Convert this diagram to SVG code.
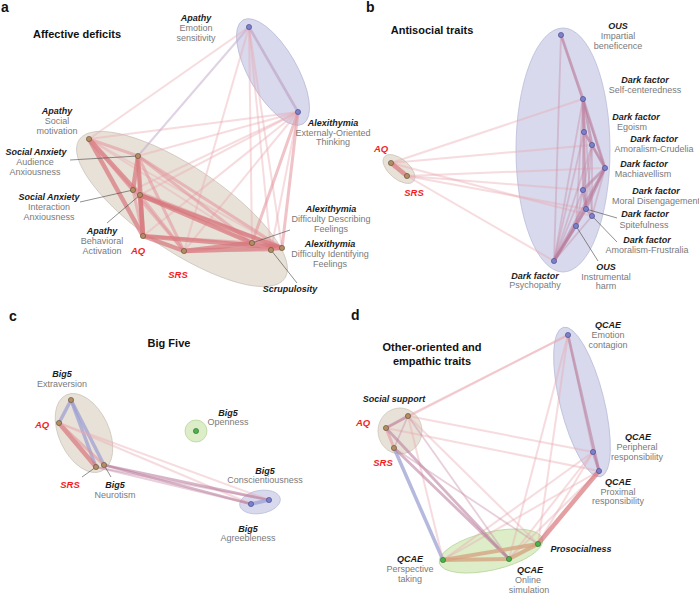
<svg xmlns="http://www.w3.org/2000/svg" width="699" height="594" viewBox="0 0 699 594">
<style>
text{font-family:"Liberation Sans",Arial,sans-serif}
.h{font-weight:bold;font-style:italic;font-size:9px;fill:#1c1c1c;text-anchor:middle}
.s{font-size:9px;fill:#7a7a7a;text-anchor:middle}
.rd{font-weight:bold;font-style:italic;font-size:9.5px;fill:#f21f1f;text-anchor:middle}
.ti{font-weight:bold;font-size:11px;fill:#111;text-anchor:middle}
.lt{font-weight:bold;font-size:14px;fill:#111}
.nb{fill:#b38d62;stroke:#5e4c36;stroke-width:.6}
.nv{fill:#7b80c9;stroke:#3f438b;stroke-width:.6}
.ng{fill:#4bb34a;stroke:#2d6b2d;stroke-width:.6}
.eb{fill:#e8e1d8;stroke:#cfc7bd;stroke-width:.8}
.ev{fill:#d8d9ec;stroke:#babdd9;stroke-width:.8}
.eg{fill:#ddedc8;stroke:#b7d59f;stroke-width:.8}
.ld{stroke:#444;stroke-width:.6;fill:none}
.e1{stroke:#eba8b0;stroke-width:2;opacity:.4}
.e2{stroke:#e3939a;stroke-width:3;opacity:.55}
.e3{stroke:#d8777c;stroke-width:4.5;opacity:.7}
.v1{stroke:#c3a6cc;stroke-width:2;opacity:.5}
.v2{stroke:#b99ac0;stroke-width:2.6;opacity:.55}
.m1{stroke:#c58aa6;stroke-width:1.8;opacity:.4}
.m2{stroke:#b8799a;stroke-width:2.8;opacity:.55}
.b3{stroke:#9ea2d4;stroke-width:3.5;opacity:.75}
.t3{stroke:#d6a27f;stroke-width:4;opacity:.75}
</style>

<!-- panel titles -->
<text class="lt" x="1" y="12">a</text>
<text class="ti" x="77" y="38">Affective deficits</text>
<text class="lt" x="366" y="12">b</text>
<text class="ti" x="432" y="34">Antisocial traits</text>
<text class="lt" x="9" y="321">c</text>
<text class="ti" x="169" y="347">Big Five</text>
<text class="lt" x="351" y="320">d</text>
<text class="ti" x="432" y="351">Other-oriented and</text>
<text class="ti" x="432" y="365">empathic traits</text>

<!-- cluster backgrounds -->
<g id="clusters">
<ellipse class="ev" cx="273" cy="72" rx="60" ry="24" transform="rotate(60 273 72)"/>
<ellipse class="eb" cx="182" cy="209" rx="124" ry="42" transform="rotate(34 182 209)"/>
<ellipse class="ev" cx="563" cy="150" rx="47" ry="122"/>
<ellipse class="eb" cx="399" cy="169" rx="19" ry="10" transform="rotate(40 399 169)"/>
<ellipse class="eb" cx="84" cy="433" rx="42" ry="25" transform="rotate(65 84 433)"/>
<circle cx="196" cy="431" r="11" class="eg"/>
<ellipse class="ev" cx="260" cy="502" rx="20.5" ry="11.5" transform="rotate(-10 260 502)"/>
<ellipse class="ev" cx="582" cy="402" rx="77" ry="22" transform="rotate(76 582 402)"/>
<ellipse class="eg" cx="491" cy="551" rx="53" ry="19" transform="rotate(-13 491 551)"/>
<ellipse class="eb" cx="400" cy="431" rx="22" ry="23"/>
</g>

<g id="connectors">
<!-- panel a -->
<line class="e1" x1="249" y1="27" x2="89" y2="139"/>
<line class="v1" x1="249" y1="27" x2="138" y2="156"/>
<line class="e1" x1="249" y1="27" x2="184" y2="251"/>
<line class="e1" x1="249" y1="27" x2="252" y2="243"/>
<line class="e1" x1="249" y1="27" x2="271" y2="250"/>
<line class="e1" x1="249" y1="27" x2="282" y2="248"/>
<line class="v2" x1="249" y1="27" x2="298" y2="112"/>
<line class="e1" x1="298" y1="112" x2="89" y2="139"/>
<line class="e1" x1="298" y1="112" x2="138" y2="156"/>
<line class="e1" x1="298" y1="112" x2="133" y2="190"/>
<line class="e1" x1="298" y1="112" x2="140" y2="195"/>
<line class="e1" x1="298" y1="112" x2="143" y2="236"/>
<line class="e1" x1="298" y1="112" x2="184" y2="251"/>
<line class="e2" x1="298" y1="112" x2="252" y2="243"/>
<line class="e1" x1="298" y1="112" x2="271" y2="250"/>
<line class="e2" x1="298" y1="112" x2="282" y2="248"/>
<line class="e1" x1="89" y1="139" x2="252" y2="243"/>
<line class="e1" x1="89" y1="139" x2="282" y2="248"/>
<line class="e2" x1="89" y1="139" x2="138" y2="156"/>
<line class="e2" x1="89" y1="139" x2="133" y2="190"/>
<line class="e3" x1="89" y1="139" x2="140" y2="195"/>
<line class="e3" x1="89" y1="139" x2="143" y2="236"/>
<line class="e2" x1="89" y1="139" x2="184" y2="251"/>
<line class="e3" x1="138" y1="156" x2="133" y2="190"/>
<line class="e2" x1="138" y1="156" x2="140" y2="195"/>
<line class="e3" x1="138" y1="156" x2="143" y2="236"/>
<line class="e2" x1="138" y1="156" x2="184" y2="251"/>
<line class="e2" x1="138" y1="156" x2="252" y2="243"/>
<line class="e2" x1="138" y1="156" x2="282" y2="248"/>
<line class="e2" x1="133" y1="190" x2="143" y2="236"/>
<line class="e1" x1="133" y1="190" x2="252" y2="243"/>
<line class="e2" x1="133" y1="190" x2="282" y2="248"/>
<line class="e3" x1="140" y1="195" x2="143" y2="236"/>
<line class="e2" x1="140" y1="195" x2="184" y2="251"/>
<line class="e3" x1="140" y1="195" x2="252" y2="243"/>
<line class="e3" x1="140" y1="195" x2="282" y2="248"/>
<line class="e3" x1="143" y1="236" x2="184" y2="251"/>
<line class="e2" x1="143" y1="236" x2="252" y2="243"/>
<line class="e3" x1="143" y1="236" x2="282" y2="248"/>
<line class="e3" x1="184" y1="251" x2="252" y2="243"/>
<line class="e3" x1="184" y1="251" x2="282" y2="248"/>
<line class="e2" x1="184" y1="251" x2="271" y2="250"/>
<line class="e3" x1="252" y1="243" x2="282" y2="248"/>
<line class="e2" x1="252" y1="243" x2="271" y2="250"/>
<line class="e2" x1="271" y1="250" x2="282" y2="248"/>
<!-- panel b -->
<line class="e1" x1="391" y1="163" x2="583" y2="99"/>
<line class="e1" x1="391" y1="163" x2="592" y2="145"/>
<line class="e1" x1="407" y1="176" x2="605" y2="168"/>
<line class="e1" x1="407" y1="176" x2="583" y2="190"/>
<line class="e1" x1="407" y1="176" x2="586" y2="209"/>
<line class="e1" x1="391" y1="163" x2="592" y2="216"/>
<line class="e1" x1="407" y1="176" x2="554" y2="261"/>
<line class="e3" x1="391" y1="163" x2="407" y2="176"/>
<line class="m2" x1="561" y1="35" x2="583" y2="99"/>
<line class="m1" x1="561" y1="35" x2="605" y2="168"/>
<line class="m1" x1="561" y1="35" x2="554" y2="261"/>
<line class="m2" x1="583" y1="99" x2="584" y2="132"/>
<line class="m2" x1="583" y1="99" x2="592" y2="145"/>
<line class="m2" x1="583" y1="99" x2="605" y2="168"/>
<line class="m1" x1="583" y1="99" x2="583" y2="190"/>
<line class="m1" x1="583" y1="99" x2="586" y2="209"/>
<line class="m1" x1="583" y1="99" x2="592" y2="216"/>
<line class="m1" x1="583" y1="99" x2="576" y2="226"/>
<line class="m1" x1="583" y1="99" x2="554" y2="261"/>
<line class="m2" x1="584" y1="132" x2="592" y2="145"/>
<line class="m1" x1="584" y1="132" x2="605" y2="168"/>
<line class="m1" x1="584" y1="132" x2="583" y2="190"/>
<line class="m1" x1="584" y1="132" x2="586" y2="209"/>
<line class="m1" x1="584" y1="132" x2="554" y2="261"/>
<line class="m2" x1="592" y1="145" x2="605" y2="168"/>
<line class="m1" x1="592" y1="145" x2="583" y2="190"/>
<line class="m1" x1="592" y1="145" x2="586" y2="209"/>
<line class="m1" x1="592" y1="145" x2="592" y2="216"/>
<line class="m1" x1="592" y1="145" x2="554" y2="261"/>
<line class="m2" x1="605" y1="168" x2="583" y2="190"/>
<line class="m2" x1="605" y1="168" x2="586" y2="209"/>
<line class="m1" x1="605" y1="168" x2="592" y2="216"/>
<line class="m1" x1="605" y1="168" x2="576" y2="226"/>
<line class="m2" x1="605" y1="168" x2="554" y2="261"/>
<line class="m2" x1="583" y1="190" x2="586" y2="209"/>
<line class="m1" x1="583" y1="190" x2="576" y2="226"/>
<line class="m1" x1="583" y1="190" x2="554" y2="261"/>
<line class="m2" x1="586" y1="209" x2="592" y2="216"/>
<line class="m1" x1="586" y1="209" x2="576" y2="226"/>
<line class="m2" x1="586" y1="209" x2="554" y2="261"/>
<line class="m1" x1="592" y1="216" x2="554" y2="261"/>
<line class="m2" x1="576" y1="226" x2="554" y2="261"/>
<!-- panel c -->
<line class="b3" x1="71" y1="400" x2="59" y2="423"/>
<line class="b3" x1="71" y1="400" x2="96" y2="467"/>
<line class="b3" x1="71" y1="400" x2="104" y2="465"/>
<line class="e3" x1="59" y1="423" x2="96" y2="467"/>
<line class="e2" x1="59" y1="423" x2="104" y2="465"/>
<line class="e1" x1="59" y1="423" x2="269" y2="500"/>
<line class="e1" x1="59" y1="423" x2="251" y2="504"/>
<line class="m2" x1="104" y1="465" x2="269" y2="500"/>
<line class="m2" x1="104" y1="465" x2="251" y2="504"/>
<line class="m1" x1="96" y1="467" x2="269" y2="500"/>
<line class="m1" x1="96" y1="467" x2="251" y2="504"/>
<line class="b3" x1="251" y1="504" x2="269" y2="500"/>
<!-- panel d -->
<line class="e1" x1="568" y1="335" x2="408" y2="416"/>
<line class="e1" x1="568" y1="335" x2="386" y2="428"/>
<line class="m2" x1="568" y1="335" x2="599" y2="471"/>
<line class="m1" x1="568" y1="335" x2="593" y2="452"/>
<line class="e1" x1="568" y1="335" x2="538" y2="544"/>
<line class="e1" x1="568" y1="335" x2="509" y2="559"/>
<line class="e1" x1="408" y1="416" x2="593" y2="452"/>
<line class="e1" x1="386" y1="428" x2="599" y2="471"/>
<line class="e1" x1="593" y1="452" x2="443" y2="560"/>
<line class="e1" x1="593" y1="452" x2="509" y2="559"/>
<line class="e1" x1="593" y1="452" x2="538" y2="544"/>
<line class="e1" x1="599" y1="471" x2="443" y2="560"/>
<line class="e1" x1="599" y1="471" x2="509" y2="559"/>
<line class="e3" x1="599" y1="471" x2="538" y2="544"/>
<line class="m2" x1="593" y1="452" x2="599" y2="471"/>
<line class="m2" x1="408" y1="416" x2="386" y2="428"/>
<line class="e2" x1="386" y1="428" x2="394" y2="448"/>
<line class="m1" x1="408" y1="416" x2="394" y2="448"/>
<line class="b3" x1="394" y1="448" x2="443" y2="560"/>
<line class="e1" x1="408" y1="416" x2="443" y2="560"/>
<line class="e1" x1="408" y1="416" x2="538" y2="544"/>
<line class="m1" x1="408" y1="416" x2="509" y2="559"/>
<line class="m2" x1="386" y1="428" x2="509" y2="559"/>
<line class="m2" x1="394" y1="448" x2="509" y2="559"/>
<line class="m1" x1="394" y1="448" x2="538" y2="544"/>
<line class="t3" x1="443" y1="560" x2="509" y2="559"/>
<line class="t3" x1="443" y1="560" x2="538" y2="544"/>
<line class="t3" x1="509" y1="559" x2="538" y2="544"/>
</g>

<!-- panel a nodes -->
<g id="a-emotion-sensitivity"><circle class="nv" cx="249" cy="27" r="2.6"/><text class="h" x="196" y="21">Apathy</text><text class="s" x="196" y="31">Emotion</text><text class="s" x="196" y="41">sensitivity</text></g>
<g id="a-externally-oriented"><circle class="nv" cx="298" cy="112" r="2.6"/><text class="h" x="333" y="126">Alexithymia</text><text class="s" x="333" y="136">Externaly-Oriented</text><text class="s" x="333" y="145">Thinking</text></g>
<g id="a-social-motivation"><circle class="nb" cx="89" cy="139" r="2.6"/><text class="h" x="57" y="114">Apathy</text><text class="s" x="57" y="124">Social</text><text class="s" x="57" y="134">motivation</text></g>
<g id="a-audience-anxiousness"><line class="ld" x1="70" y1="160" x2="138" y2="156"/><circle class="nb" cx="138" cy="156" r="2.6"/><text class="h" x="36" y="155">Social Anxiety</text><text class="s" x="35" y="165">Audience</text><text class="s" x="35" y="175">Anxiousness</text></g>
<g id="a-interaction-anxiousness"><line class="ld" x1="80" y1="202" x2="133" y2="190"/><circle class="nb" cx="133" cy="190" r="2.6"/><text class="h" x="49" y="200">Social Anxiety</text><text class="s" x="49" y="210">Interaction</text><text class="s" x="49" y="220">Anxiousness</text></g>
<g id="a-behavioral-activation"><line class="ld" x1="107" y1="223" x2="140" y2="195"/><circle class="nb" cx="140" cy="195" r="2.6"/><text class="h" x="102" y="234">Apathy</text><text class="s" x="102" y="244">Behavioral</text><text class="s" x="102" y="254">Activation</text></g>
<g id="a-aq"><circle class="nb" cx="143" cy="236" r="2.6"/><text class="rd" x="138" y="254">AQ</text></g>
<g id="a-srs"><circle class="nb" cx="184" cy="251" r="2.6"/><text class="rd" x="178" y="278">SRS</text></g>
<g id="a-difficulty-describing"><line class="ld" x1="290" y1="230" x2="252" y2="243"/><circle class="nb" cx="252" cy="243" r="2.6"/><text class="h" x="331" y="212">Alexithymia</text><text class="s" x="331" y="222">Difficulty Describing</text><text class="s" x="331" y="232">Feelings</text></g>
<g id="a-scrupulosity"><line class="ld" x1="271" y1="250" x2="297" y2="283"/><circle class="nb" cx="271" cy="250" r="2.6"/><text class="h" x="290" y="292">Scrupulosity</text></g>
<g id="a-difficulty-identifying"><circle class="nb" cx="282" cy="248" r="2.6"/><text class="h" x="330" y="247">Alexithymia</text><text class="s" x="330" y="257">Difficulty Identifying</text><text class="s" x="330" y="267">Feelings</text></g>

<!-- panel b nodes -->
<g id="b-aq"><circle class="nb" cx="391" cy="163" r="2.6"/><text class="rd" x="381" y="152">AQ</text></g>
<g id="b-srs"><circle class="nb" cx="407" cy="176" r="2.6"/><text class="rd" x="414" y="196">SRS</text></g>
<g id="b-impartial-beneficence"><circle class="nv" cx="561" cy="35" r="2.6"/><text class="h" x="618" y="29">OUS</text><text class="s" x="618" y="39">Impartial</text><text class="s" x="618" y="49">beneficence</text></g>
<g id="b-self-centeredness"><circle class="nv" cx="583" cy="99" r="2.6"/><text class="h" x="645" y="83">Dark factor</text><text class="s" x="645" y="93">Self-centeredness</text></g>
<g id="b-egoism"><circle class="nv" cx="584" cy="132" r="2.6"/><text class="h" x="636" y="120">Dark factor</text><text class="s" x="632" y="130">Egoism</text></g>
<g id="b-amoralism-crudelia"><circle class="nv" cx="592" cy="145" r="2.6"/><text class="h" x="654" y="142">Dark factor</text><text class="s" x="654" y="152">Amoralism-Crudelia</text></g>
<g id="b-machiavellism"><circle class="nv" cx="605" cy="168" r="2.6"/><text class="h" x="644" y="167">Dark factor</text><text class="s" x="643" y="177">Machiavellism</text></g>
<g id="b-moral-disengagement"><circle class="nv" cx="583" cy="190" r="2.6"/><text class="h" x="656" y="194">Dark factor</text><text class="s" x="656" y="204">Moral Disengagement</text></g>
<g id="b-spitefulness"><line class="ld" x1="586" y1="209" x2="617" y2="218"/><circle class="nv" cx="586" cy="209" r="2.6"/><text class="h" x="645" y="217">Dark factor</text><text class="s" x="644" y="228">Spitefulness</text></g>
<g id="b-amoralism-frustralia"><line class="ld" x1="592" y1="216" x2="617" y2="242"/><circle class="nv" cx="592" cy="216" r="2.6"/><text class="h" x="647" y="243">Dark factor</text><text class="s" x="647" y="253">Amoralism-Frustralia</text></g>
<g id="b-instrumental-harm"><line class="ld" x1="576" y1="226" x2="598" y2="261"/><circle class="nv" cx="576" cy="226" r="2.6"/><text class="h" x="606" y="270">OUS</text><text class="s" x="606" y="280">Instrumental</text><text class="s" x="606" y="289">harm</text></g>
<g id="b-psychopathy"><circle class="nv" cx="554" cy="261" r="2.6"/><text class="h" x="535" y="279">Dark factor</text><text class="s" x="535" y="288">Psychopathy</text></g>

<!-- panel c nodes -->
<g id="c-extraversion"><circle class="nb" cx="71" cy="400" r="2.6"/><text class="h" x="62" y="377">Big5</text><text class="s" x="62" y="387">Extraversion</text></g>
<g id="c-aq"><circle class="nb" cx="59" cy="423" r="2.6"/><text class="rd" x="42" y="428">AQ</text></g>
<g id="c-openness"><circle class="ng" cx="196" cy="431" r="2.6"/><text class="h" x="228" y="416">Big5</text><text class="s" x="228" y="425">Openness</text></g>
<g id="c-srs"><line class="ld" x1="96" y1="467" x2="82" y2="477"/><circle class="nb" cx="96" cy="467" r="2.6"/><text class="rd" x="70" y="488">SRS</text></g>
<g id="c-neurotism"><line class="ld" x1="104" y1="465" x2="111" y2="477"/><circle class="nb" cx="104" cy="465" r="2.6"/><text class="h" x="115" y="488">Big5</text><text class="s" x="115" y="498">Neurotism</text></g>
<g id="c-conscientiousness"><circle class="nv" cx="269" cy="500" r="2.6"/><text class="h" x="265" y="474">Big5</text><text class="s" x="265" y="483">Conscientiousness</text></g>
<g id="c-agreeableness"><circle class="nv" cx="251" cy="504" r="2.6"/><text class="h" x="248" y="532">Big5</text><text class="s" x="248" y="541">Agreebleness</text></g>

<!-- panel d nodes -->
<g id="d-emotion-contagion"><circle class="nv" cx="568" cy="335" r="2.6"/><text class="h" x="608" y="328">QCAE</text><text class="s" x="608" y="338">Emotion</text><text class="s" x="608" y="348">contagion</text></g>
<g id="d-social-support"><circle class="nb" cx="408" cy="416" r="2.6"/><text class="h" x="394" y="402">Social support</text></g>
<g id="d-aq"><circle class="nb" cx="386" cy="428" r="2.6"/><text class="rd" x="363" y="426">AQ</text></g>
<g id="d-srs"><circle class="nb" cx="394" cy="448" r="2.6"/><text class="rd" x="383" y="466">SRS</text></g>
<g id="d-peripheral-responsibility"><circle class="nv" cx="593" cy="452" r="2.6"/><text class="h" x="638" y="440">QCAE</text><text class="s" x="637" y="450">Peripheral</text><text class="s" x="637" y="460">responsibility</text></g>
<g id="d-proximal-responsibility"><circle class="nv" cx="599" cy="471" r="2.6"/><text class="h" x="618" y="485">QCAE</text><text class="s" x="618" y="495">Proximal</text><text class="s" x="618" y="504">responsibility</text></g>
<g id="d-prosocialness"><circle class="ng" cx="538" cy="544" r="2.6"/><text class="h" x="581" y="552">Prosocialness</text></g>
<g id="d-perspective-taking"><circle class="ng" cx="443" cy="560" r="2.6"/><text class="h" x="410" y="562">QCAE</text><text class="s" x="410" y="572">Perspective</text><text class="s" x="410" y="582">taking</text></g>
<g id="d-online-simulation"><circle class="ng" cx="509" cy="559" r="2.6"/><text class="h" x="530" y="573">QCAE</text><text class="s" x="528" y="583">Online</text><text class="s" x="529" y="592.5">simulation</text></g>
</svg>
